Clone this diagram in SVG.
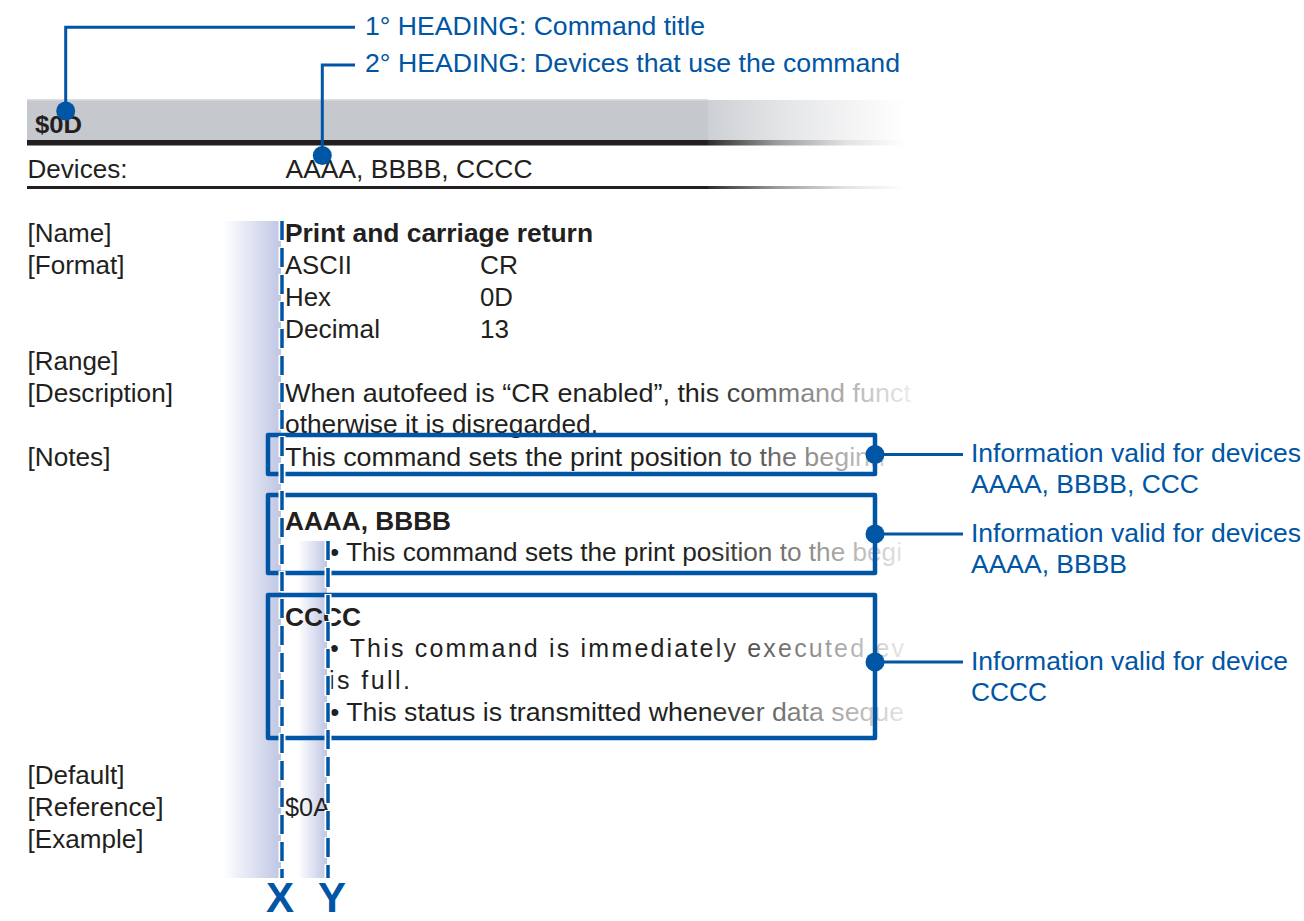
<svg xmlns="http://www.w3.org/2000/svg" width="1304" height="921" viewBox="0 0 1304 921">
<defs>
<linearGradient id="bandGrad" x1="0" y1="0" x2="1" y2="0">
<stop offset="0" stop-color="#ffffff"/>
<stop offset="0.5" stop-color="#dfe3f2"/>
<stop offset="1" stop-color="#bfc6e3"/>
</linearGradient>
<linearGradient id="headGrad" x1="0" y1="0" x2="1" y2="0">
<stop offset="0" stop-color="#cdd0d4"/>
<stop offset="0.4" stop-color="#e5e6e8"/>
<stop offset="1" stop-color="#ffffff"/>
</linearGradient>
<linearGradient id="lineGrad" x1="0" y1="0" x2="1" y2="0">
<stop offset="0" stop-color="#2e2b2c"/>
<stop offset="0.35" stop-color="#9c9c9c"/>
<stop offset="0.7" stop-color="#e2e2e2"/>
<stop offset="1" stop-color="#ffffff"/>
</linearGradient>
<linearGradient id="fadeGrad" x1="0" y1="0" x2="1" y2="0">
<stop offset="0" stop-color="#ffffff" stop-opacity="0"/>
<stop offset="1" stop-color="#ffffff" stop-opacity="0.94"/>
</linearGradient>
<style>
text{font-family:"Liberation Sans",Arial,Helvetica,sans-serif;font-size:25px;fill:#231f20}
.b{font-weight:bold}
.blue{fill:#0055a4}
.xy{font-size:42px;font-weight:bold;fill:#0055a4;text-anchor:middle}
.lead{fill:none;stroke:#0055a4;stroke-width:3}
.box{fill:none;stroke:#0055a4;stroke-width:4.5;stroke-linejoin:round}
.dot{fill:#0055a4}
.halo{stroke:#ffffff;stroke-width:7;stroke-dasharray:21 6;stroke-dashoffset:1}
.dash{stroke:#0055a4;stroke-width:3.5;stroke-dasharray:19 8}
</style>
</defs>
<rect width="1304" height="921" fill="#ffffff"/>

<g id="header-bar">
<rect x="27" y="100" width="681" height="40" fill="#c5c8cc"/>
<rect x="708" y="100" width="197" height="40" fill="url(#headGrad)"/>
<rect x="27" y="99" width="681" height="1.5" fill="#dcdddf"/>
<rect x="27" y="140" width="681" height="5.5" fill="#231f20"/>
<rect x="708" y="140" width="197" height="5.5" fill="url(#lineGrad)"/>
<rect x="27" y="186" width="681" height="3" fill="#231f20"/>
<rect x="708" y="186" width="197" height="3" fill="url(#lineGrad)"/>
<text class="b" x="35" y="133" textLength="47" lengthAdjust="spacingAndGlyphs" style="font-size:24px">$0D</text>
<text x="27.5" y="178" textLength="100" lengthAdjust="spacingAndGlyphs">Devices:</text>
<text x="285.5" y="178" textLength="247" lengthAdjust="spacingAndGlyphs">AAAA, BBBB, CCCC</text>
</g>

<g id="bands">
<rect x="223" y="221" width="58" height="657" fill="url(#bandGrad)"/>
<rect x="298" y="541" width="29" height="337" fill="url(#bandGrad)"/>
</g>

<g id="labels">
<text x="27.5" y="242" textLength="84" lengthAdjust="spacingAndGlyphs">[Name]</text>
<text x="27.5" y="274" textLength="97" lengthAdjust="spacingAndGlyphs">[Format]</text>
<text x="27.5" y="370" textLength="91" lengthAdjust="spacingAndGlyphs">[Range]</text>
<text x="27.5" y="402" textLength="145.5" lengthAdjust="spacingAndGlyphs">[Description]</text>
<text x="27.5" y="466" textLength="83" lengthAdjust="spacingAndGlyphs">[Notes]</text>
<text x="27.5" y="784" textLength="97" lengthAdjust="spacingAndGlyphs">[Default]</text>
<text x="27.5" y="816" textLength="136" lengthAdjust="spacingAndGlyphs">[Reference]</text>
<text x="27.5" y="848" textLength="116" lengthAdjust="spacingAndGlyphs">[Example]</text>
</g>

<g id="content">
<text class="b" x="285" y="242" textLength="308" lengthAdjust="spacingAndGlyphs">Print and carriage return</text>
<text x="285" y="274" textLength="67" lengthAdjust="spacingAndGlyphs">ASCII</text>
<text x="480" y="274" textLength="38" lengthAdjust="spacingAndGlyphs">CR</text>
<text x="285" y="306" textLength="46" lengthAdjust="spacingAndGlyphs">Hex</text>
<text x="480" y="306" textLength="33" lengthAdjust="spacingAndGlyphs">0D</text>
<text x="285" y="338" textLength="95" lengthAdjust="spacingAndGlyphs">Decimal</text>
<text x="480" y="338" textLength="29" lengthAdjust="spacingAndGlyphs">13</text>
<text x="285" y="402" textLength="626" lengthAdjust="spacingAndGlyphs">When autofeed is “CR enabled”, this command funct</text>
<text x="285" y="433" textLength="313" lengthAdjust="spacingAndGlyphs">otherwise it is disregarded.</text>
<text x="285" y="816" textLength="45" lengthAdjust="spacingAndGlyphs">$0A</text>
</g>

<g id="note-all">
<text x="285" y="466" textLength="600" lengthAdjust="spacingAndGlyphs">This command sets the print position to the beginn</text>
</g>

<g id="note-aaaa-bbbb">
<text class="b" x="285" y="530" textLength="166" lengthAdjust="spacingAndGlyphs">AAAA, BBBB</text>
<text x="330" y="561" textLength="572" lengthAdjust="spacingAndGlyphs">• This command sets the print position to the begi</text>
</g>

<g id="note-cccc">
<text class="b" x="285" y="626" textLength="76" lengthAdjust="spacingAndGlyphs">CCCC</text>
<text x="330" y="657" textLength="574" lengthAdjust="spacing">• This command is immediately executed ev</text>
<text x="329" y="689" textLength="81" lengthAdjust="spacing">is full.</text>
<text x="330" y="721" textLength="574" lengthAdjust="spacingAndGlyphs">• This status is transmitted whenever data seque</text>
</g>

<rect id="fade" x="700" y="378" width="215" height="360" fill="url(#fadeGrad)"/>
<rect x="915" y="378" width="12" height="360" fill="#ffffff" fill-opacity="0.94"/>

<g id="boxes">
<rect id="box-all" class="box" x="268" y="435" width="607" height="39"/>
<rect id="box-aaaa-bbbb" class="box" x="268" y="495" width="607" height="78"/>
<rect id="box-cccc" class="box" x="268" y="595" width="607" height="143"/>
</g>

<g id="guides">
<line class="halo" x1="282" y1="221" x2="282" y2="878"/>
<line class="dash" x1="282" y1="221" x2="282" y2="878"/>
<line class="halo" x1="328" y1="541" x2="328" y2="878"/>
<line class="dash" x1="328" y1="541" x2="328" y2="878"/>
<text class="xy" x="280" y="912">X</text>
<text class="xy" x="332" y="912">Y</text>
</g>

<g id="connectors">
<polyline class="lead" points="355,27.3 65.7,27.3 65.7,111"/>
<polyline class="lead" points="355,65 322.3,65 322.3,155.5"/>
<line class="lead" x1="875" y1="454.5" x2="963" y2="454.5"/>
<line class="lead" x1="875" y1="534" x2="963" y2="534"/>
<line class="lead" x1="875" y1="662" x2="963" y2="662"/>
<circle class="dot" cx="65.7" cy="111" r="9.5"/>
<circle class="dot" cx="322.3" cy="155.5" r="9.5"/>
<circle class="dot" cx="875" cy="454.5" r="9.5"/>
<circle class="dot" cx="875" cy="534" r="9.5"/>
<circle class="dot" cx="875" cy="662" r="9.5"/>
</g>

<g id="heading-1">
<text class="blue" x="365" y="35" textLength="340" lengthAdjust="spacingAndGlyphs">1° HEADING: Command title</text>
</g>
<g id="heading-2">
<text class="blue" x="365" y="72" textLength="535" lengthAdjust="spacingAndGlyphs">2° HEADING: Devices that use the command</text>
</g>

<g id="label-all">
<text class="blue" x="971" y="462" textLength="330" lengthAdjust="spacingAndGlyphs">Information valid for devices</text>
<text class="blue" x="971" y="493" textLength="228" lengthAdjust="spacingAndGlyphs">AAAA, BBBB, CCC</text>
</g>
<g id="label-aaaa-bbbb">
<text class="blue" x="971" y="542" textLength="330" lengthAdjust="spacingAndGlyphs">Information valid for devices</text>
<text class="blue" x="971" y="573" textLength="156" lengthAdjust="spacingAndGlyphs">AAAA, BBBB</text>
</g>
<g id="label-cccc">
<text class="blue" x="971" y="670" textLength="317" lengthAdjust="spacingAndGlyphs">Information valid for device</text>
<text class="blue" x="971" y="701" textLength="76" lengthAdjust="spacingAndGlyphs">CCCC</text>
</g>
</svg>
